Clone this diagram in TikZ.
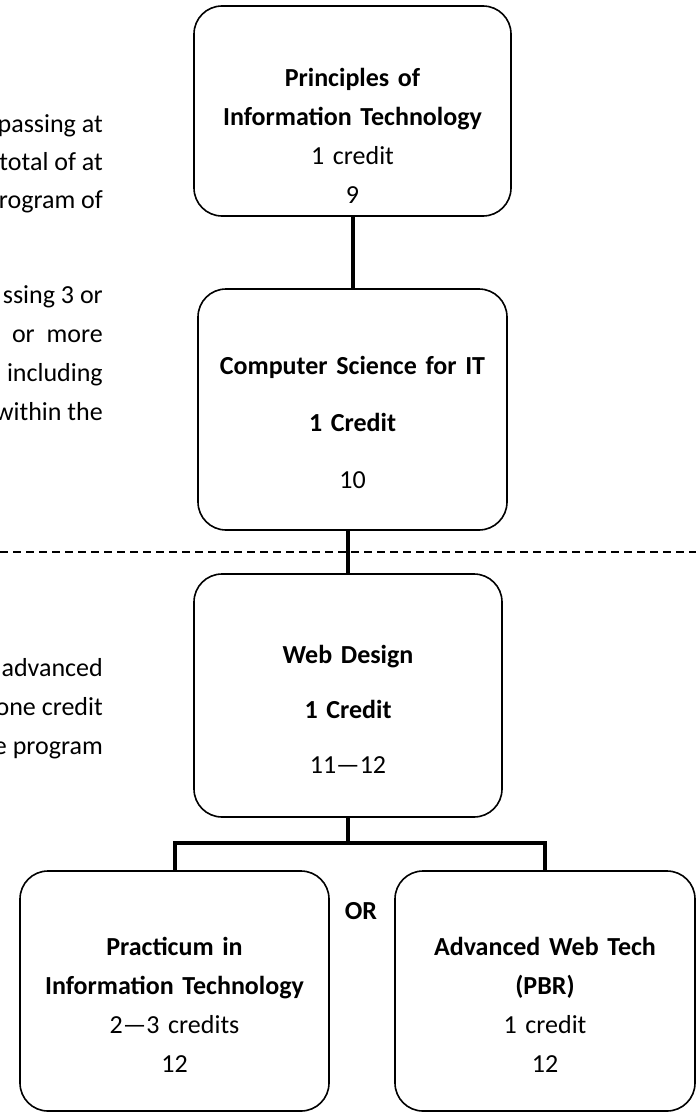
\documentclass[tikz,border=0pt]{standalone}
\usepackage{fontspec}
\setmainfont{Carlito}
\usepackage{tikz}
\usetikzlibrary{positioning}

\tikzset{
  course/.style={draw=black, rounded corners=28pt, line width=1.6pt,
    inner sep=0pt, align=center, anchor=base,
    font=\fontsize{26}{39}\selectfont},
  link/.style={draw=black, line width=4pt},
  divider/.style={draw=black, line width=2pt, dash pattern=on 8pt off 5pt},
  sidenote/.style={anchor=base east, inner sep=0pt,
    font=\fontsize{26}{39}\selectfont}
}

\begin{document}
\begin{tikzpicture}[x=1pt, y=-1pt]
    \useasboundingbox (0,0) rectangle (696,1113);

    % course boxes
    \node[course, text width=317pt, text height=81pt, text depth=129pt] (pit) at (352.5,87) {
      \textbf{Principles of}\\
      \textbf{Information Technology}\\
      1 credit\\
      9
    };
    \node[course, text width=309pt, text height=85pt, text depth=156pt] (csit) at (352.5,374) {
      \textbf{Computer Science for IT}\\[18pt]
      \textbf{1 Credit}\\[18pt]
      10
    };
    \node[course, text width=308pt, text height=89pt, text depth=154pt] (wd) at (348,663) {
      \textbf{Web Design}\\[16pt]
      \textbf{1 Credit}\\[16pt]
      11—12
    };
    \node[course, text width=309pt, text height=84pt, text depth=156pt] (prac) at (174.5,955) {
      \textbf{Practicum in}\\
      \textbf{Information Technology}\\
      2—3 credits\\
      12
    };
    \node[course, text width=300pt, text height=84pt, text depth=156pt] (awt) at (545,955) {
      \textbf{Advanced Web Tech}\\
      \textbf{(PBR)}\\
      1 credit\\
      12
    };
    \node[anchor=base, inner sep=0pt, font=\fontsize{26}{39}\selectfont\bfseries] (or) at (361,919) {OR};

    % side notes, cut at the left edge
    \foreach \txt/\y [count=\i] in {passing at/132, total of at/170, rogram of/208,
        ssing 3 or/303, or\hspace{6pt} more/342, including/381, within the/420,
        advanced/676, one credit/715, e program/754}
      \node[sidenote] (note\i) at (103,\y) {\txt};

    % level divider
    \draw[divider] (0,552) -- (696,552);

    % connectors
    \coordinate (bar) at (0,843);
    \draw[link] (pit.south) -- (csit.north);
    \draw[link] (wd.north |- csit.south) -- (wd.north);
    \draw[link] (wd.south) -- (wd.south |- bar);
    \draw[link] (prac.north) |- (wd.south |- bar) -| (awt.north);
\end{tikzpicture}
\end{document}
